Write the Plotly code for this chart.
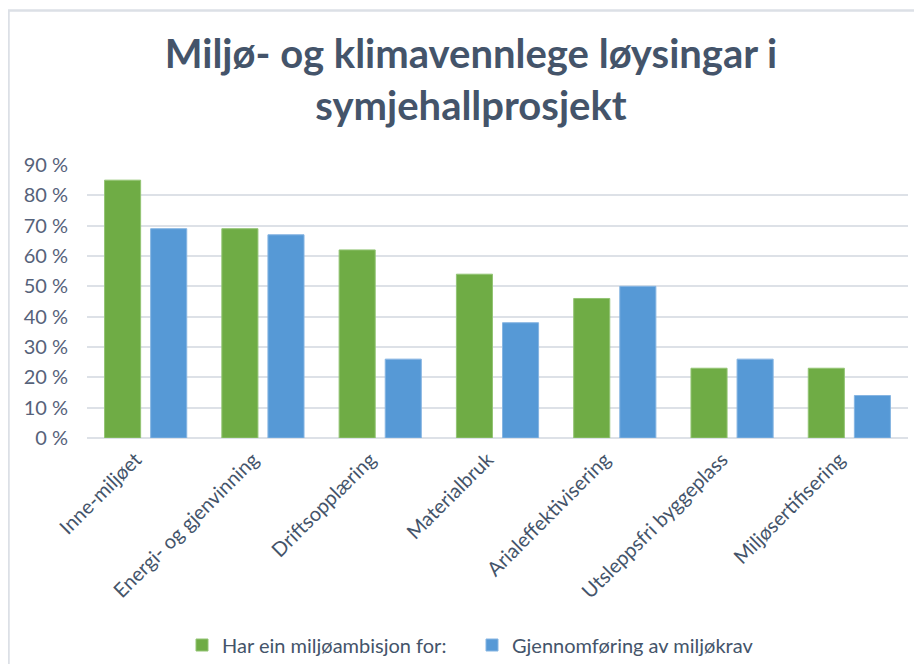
import plotly.graph_objects as go

categories = ["Inne-miljøet", "Energi- og gjenvinning", "Driftsopplæring", "Materialbruk",
              "Arialeffektivisering", "Utsleppsfri byggeplass", "Miljøsertifisering"]
ambisjon = [85, 69, 62, 54, 46, 23, 23]
gjennomforing = [69, 67, 26, 38, 50, 26, 14]
y_ticks = [0, 10, 20, 30, 40, 50, 60, 70, 80, 90]
y_labels = [f"{v} %" for v in y_ticks]

title_text = "Miljø- og klimavennlege løysingar i<br>symjehallprosjekt"
name_a = "Har ein miljøambisjon for:"
name_b = "Gjennomføring av miljøkrav"

TEXT = "#44546A"
FONT = "Lato"

fig = go.Figure()
fig.add_trace(go.Bar(x=categories, y=ambisjon, name=name_a,
                     marker=dict(color="#6FAC45", line=dict(color="#93C474", width=1))))
fig.add_trace(go.Bar(x=categories, y=gjennomforing, name=name_b,
                     marker=dict(color="#5699D6", line=dict(color="#86B5E2", width=1))))

# page body has an 8px margin; figure coordinates = screen coordinates - 8
W, H = 906, 656
L, T = 79, 157
R = W - 900
B = H - 430
pw, ph = W - L - R, H - T - B

def px_x(px):
    return (px - L) / pw

def px_y(py):
    return (H - B - py) / ph

fig.add_shape(type="rect", xref="paper", yref="paper",
              x0=px_x(0.5), x1=px_x(940), y0=px_y(2.5), y1=px_y(700),
              line=dict(color="#DCE0E6", width=2.5), fillcolor="rgba(0,0,0,0)", layer="below")

fig.update_layout(
    width=W, height=H,
    margin=dict(l=L, r=R, t=T, b=B, autoexpand=False),
    paper_bgcolor="white", plot_bgcolor="white",
    barmode="group", bargap=0.214, bargroupgap=0.217,
    title=dict(text=title_text, xref="container", yref="container", x=463 / W, xanchor="center",
               y=1 - 60 / H, yanchor="middle",
               font=dict(family=FONT, size=40, color=TEXT, weight="bold")),
    font=dict(family=FONT, color=TEXT),
    xaxis=dict(tickangle=-45, tickfont=dict(size=20, color=TEXT), showgrid=False,
               showline=False, ticks="", automargin=False, ticklabelshift=-10,
               ticklabelstandoff=5),
    yaxis=dict(range=[0, 90], tickvals=y_ticks, ticktext=y_labels,
               tickfont=dict(size=20, color="#56627A"), showgrid=True, gridcolor="#DDE1E7",
               gridwidth=2, zeroline=True, zerolinecolor="#DDE1E7", zerolinewidth=2,
               showline=False, ticks="", automargin=False, ticklabelstandoff=18),
    legend=dict(orientation="h", x=px_x(174), xanchor="left", y=px_y(637), yanchor="middle",
                font=dict(size=20, color=TEXT), entrywidth=245, traceorder="normal"),
    showlegend=True,
)

fig.write_html("out.html")
